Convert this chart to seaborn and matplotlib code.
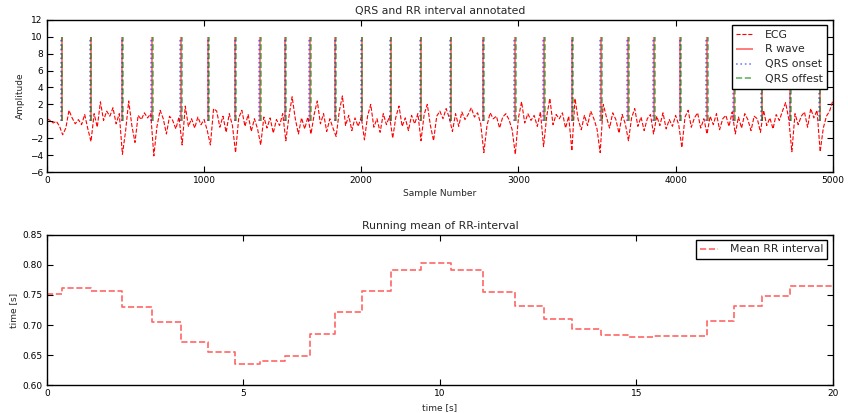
import numpy as np
import matplotlib
matplotlib.use("Agg")
import matplotlib.pyplot as plt
import seaborn as sns
import pandas as pd

# sampling rate of the recording
fs = 250

# ECG trace, every 20 samples (0 .. 5000)
ecg_step = 20
ecg_values = [
    0.3, 0.1, -0.2, 0.0, -0.6, -1.6, -0.8, 1.3, 0.4, -0.3,
    0.2, -0.4, 0.8, -0.9, -2.4, 0.9, -0.7, 2.3, 0.1, 1.2,
    0.6, 1.6, -0.3, 0.9, -3.9, -1.2, 2.4, -0.5, -2.5, 0.7,
    0.2, 1.0, 0.4, 0.9, -4.1, -0.6, 1.3, 0.3, -1.5, 0.6,
    0.1, -0.9, 0.5, -2.8, 1.8, -0.6, 0.3, -0.8, 0.5, -0.4,
    0.2, -1.1, -2.8, 1.5, 1.2, -0.7, 0.6, -1.3, 0.9, -0.5,
    -3.7, 0.4, 1.3, -0.6, 0.8, -1.2, 0.3, -0.9, -2.8, 0.5,
    -0.8, 0.4, -1.4, 0.2, -0.5, 0.9, -2.3, 0.6, 2.9, 0.3,
    -1.5, 0.4, -0.9, 0.5, -1.5, 0.8, 2.4, -0.3, 0.9, -1.2,
    0.3, -0.8, -1.8, 1.2, 3.0, -0.5, 0.7, -1.1, 0.4, -0.6,
    0.5, -2.2, 0.6, 2.0, -0.7, 0.3, -1.3, 0.9, -0.4, 0.6,
    -2.0, 0.5, 1.8, -0.6, 0.4, -1.1, 0.7, -0.3, 0.9, -2.3,
    0.8, 2.0, -0.5, -2.3, 0.6, 1.2, 0.3, 1.5, 0.4, -1.2,
    0.9, -0.6, 1.1, 0.2, 0.8, 1.6, 0.5, 1.0, -0.3, -3.7,
    -0.5, 1.0, 0.3, 0.6, -0.8, 0.5, 0.9, 0.2, -1.0, -3.9,
    0.4, 2.3, -0.2, 0.9, 0.1, 0.7, -0.6, 1.1, -3.0, 0.6,
    2.7, -0.4, 0.8, 0.3, 1.0, -0.8, 0.6, -3.5, 2.7, 0.2,
    -1.0, 0.7, -0.5, 1.2, 0.3, -0.9, -3.7, 2.0, 0.5, -0.8,
    1.0, 0.2, -1.4, 0.8, -0.3, -2.3, 0.4, 1.5, -0.6, 0.5,
    -1.1, 0.3, 0.8, -1.5, 0.6, -0.5, 1.0, -0.9, 0.2, -0.6,
    0.7, -0.4, -3.1, 0.5, 1.3, -0.7, 0.4, 1.0, -0.8, 0.3,
    -1.5, 0.6, -0.4, 0.9, -1.0, 0.3, 0.7, -0.6, 1.1, -1.5,
    0.5, -0.8, 0.9, 0.2, -1.1, 0.6, 0.3, -1.3, 1.3, -0.5,
    0.4, -0.9, 0.8, 0.1, 1.2, 2.2, 0.3, -3.6, 0.9, -0.4,
    0.6, 1.1, -0.7, 1.5, 0.4, 1.3, -3.6, -0.8, 0.6, 1.2, 2.4,
]

# R peak positions (sample number)
r_peaks = [93, 278, 479, 667, 852, 1026, 1198, 1355, 1516, 1673,
           1834, 2002, 2187, 2378, 2568, 2776, 2977, 3162, 3344, 3524,
           3696, 3863, 4031, 4200, 4370, 4548, 4731, 4917]
qrs_onsets = [p - 4 for p in r_peaks]
qrs_offsets = [p + 5 for p in r_peaks]
marker_height = 10

# running mean of RR interval: start value, then value after each R peak
rr_start = 0.752
rr_mean = [0.761, 0.756, 0.730, 0.705, 0.672, 0.655, 0.636, 0.641, 0.649, 0.685,
           0.721, 0.756, 0.792, 0.803, 0.792, 0.755, 0.732, 0.710, 0.693, 0.684,
           0.680, 0.682, 0.682, 0.706, 0.732, 0.748, 0.764, 0.764]

df_ecg = pd.DataFrame({'sample': np.arange(len(ecg_values)) * ecg_step,
                       'amp': ecg_values})
t_steps = [0.0] + [p / fs for p in r_peaks] + [20.0]
rr_steps = [rr_start] + rr_mean + [rr_mean[-1]]
df_rr = pd.DataFrame({'t': t_steps, 'rr': rr_steps})

sns.set_style('ticks', {'xtick.direction': 'in', 'ytick.direction': 'in'})
plt.rcParams['font.family'] = ['DejaVu Sans']
plt.rcParams['xtick.top'] = True
plt.rcParams['ytick.right'] = True

small = 6.5
big = 7.8

fig = plt.figure(figsize=(8.48, 4.13), dpi=100)
ax1 = fig.add_axes([0.0554, 0.5835, 0.9266, 0.3685])
ax2 = fig.add_axes([0.0554, 0.067, 0.9266, 0.365])

# top: ECG with annotations
sns.lineplot(data=df_ecg, x='sample', y='amp', ax=ax1, color='red',
             linestyle='--', dashes=(3, 2), linewidth=0.8, label='ECG')
ax1.vlines(r_peaks, 0, marker_height, colors='red', linestyles='-',
           linewidth=1.2, alpha=0.6, label='R wave')
ax1.vlines(qrs_onsets, 0, marker_height, colors='blue', linestyles=':',
           linewidth=1.2, alpha=0.5, label='QRS onset')
ax1.vlines(qrs_offsets, 0, marker_height, colors='green', linestyles='--',
           linewidth=1.2, alpha=0.6, label='QRS offest')
ax1.set_xlim(0, 5000)
ax1.set_ylim(-6, 12)
ax1.set_xticks(range(0, 5001, 1000))
ax1.set_yticks(range(-6, 13, 2))
ax1.set_title('QRS and RR interval annotated', fontsize=big, pad=4)
ax1.set_xlabel('Sample Number', fontsize=small, labelpad=3)
ax1.set_ylabel('Amplitude', fontsize=small, labelpad=3)
leg1 = ax1.legend(loc='upper right', fontsize=big, fancybox=False,
                  edgecolor='black', framealpha=1, handlelength=1.6,
                  handletextpad=1.1, borderpad=0.4, labelspacing=0.45)
leg1.get_frame().set_linewidth(1.0)

# bottom: running mean of RR-interval
sns.lineplot(data=df_rr, x='t', y='rr', ax=ax2, color='red', alpha=0.6,
             linestyle='--', linewidth=1.2, drawstyle='steps-post',
             label='Mean RR interval')
ax2.set_xlim(0, 20)
ax2.set_ylim(0.6, 0.85)
ax2.set_xticks([0, 5, 10, 15, 20])
ax2.set_yticks(np.arange(0.60, 0.851, 0.05))
ax2.set_yticklabels(['0.60', '0.65', '0.70', '0.75', '0.80', '0.85'])
ax2.set_title('Running mean of RR-interval', fontsize=big, pad=4)
ax2.set_xlabel('time [s]', fontsize=small, labelpad=3)
ax2.set_ylabel('time [s]', fontsize=small, labelpad=3)
leg2 = ax2.legend(loc='upper right', fontsize=big, fancybox=False,
                  edgecolor='black', framealpha=1, handlelength=1.6,
                  handletextpad=1.1, borderpad=0.4)
leg2.get_frame().set_linewidth(1.0)

for ax in (ax1, ax2):
    for s in ax.spines.values():
        s.set_color('black')
        s.set_linewidth(1.0)
    ax.tick_params(labelsize=small, length=4, pad=3, colors='black')

fig.savefig('out.png', dpi=100)
